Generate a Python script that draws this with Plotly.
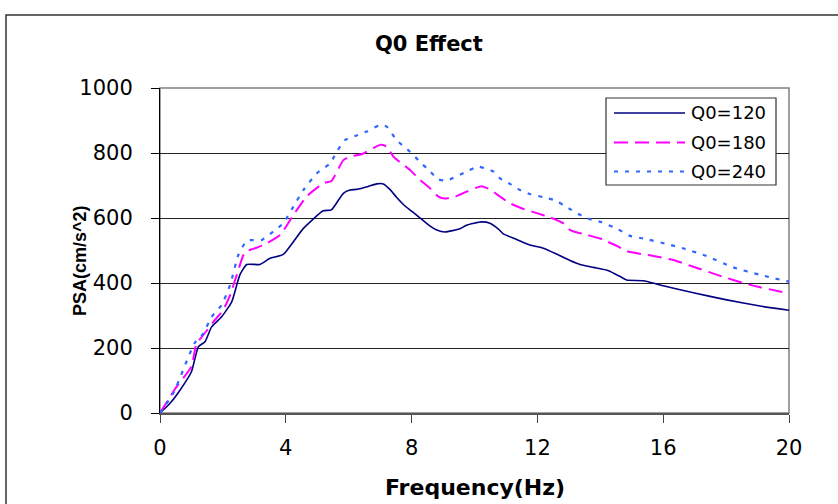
import plotly.graph_objects as go

# ---- data ----
series_names = ["Q0=120", "Q0=180", "Q0=240"]

f_120 = [0, 0.32, 0.64, 1.0, 1.22, 1.43, 1.64, 1.96, 2.28, 2.54, 2.76, 3.18, 3.50, 3.92, 4.56, 5.19,
         5.45, 5.83, 6.04, 6.25, 6.62, 6.89, 7.10, 7.31, 7.52, 7.79, 8.16, 8.59, 8.80, 9.06, 9.54,
         9.75, 10.22, 10.49, 10.76, 10.92, 11.34, 11.76, 12.19, 12.61, 13.04, 13.35, 13.78, 14.26,
         14.63, 14.84, 15.37, 15.90, 16.96, 18.02, 19.08, 20.0]
v_120 = [0, 30, 71, 127, 204, 219, 265, 296, 342, 425, 457, 457, 476, 488, 568, 622,
         625, 676, 686, 688, 697, 705, 705, 688, 664, 637, 609, 575, 563, 557, 567,
         578, 588, 584, 566, 551, 534, 517, 507, 489, 469, 457, 448, 438,
         420, 409, 407, 394, 370, 348, 329, 316]

f_180 = [0, 0.53, 1.0, 1.16, 1.38, 1.70, 2.01, 2.23, 2.49, 2.70, 2.97, 3.29, 3.82, 4.24, 4.66, 5.19,
         5.45, 5.83, 6.04, 6.41, 6.78, 7.0, 7.21, 7.42, 7.68, 7.95, 8.27, 8.59, 8.85, 9.06, 9.38,
         9.75, 10.22, 10.49, 10.81, 11.13, 11.50, 11.98, 12.40, 12.82, 13.04, 13.57, 13.99, 14.57,
         14.84, 15.69, 16.32, 16.96, 17.81, 18.66, 19.08, 20.0]
v_180 = [0, 81, 143, 214, 240, 281, 317, 363, 440, 496, 505, 517, 548, 609, 666, 707,
         714, 778, 789, 796, 815, 825, 820, 789, 768, 748, 717, 691, 666, 660, 666,
         681, 698, 688, 666, 645, 630, 615, 602, 584, 563, 548, 537, 512,
         498, 483, 471, 450, 422, 397, 387, 368]

f_240 = [0, 0.43, 1.1, 1.38, 1.64, 1.96, 2.23, 2.49, 2.76, 2.97, 3.23, 3.60, 3.92, 4.24, 4.56, 4.98,
         5.41, 5.62, 5.88, 6.20, 6.57, 7.0, 7.21, 7.52, 7.95, 8.21, 8.59, 8.85, 9.11, 9.75, 10.12,
         10.60, 10.81, 11.13, 11.45, 11.76, 12.19, 12.61, 12.82, 13.08, 13.35, 13.67, 14.04, 14.57,
         14.94, 15.37, 16.11, 16.69, 17.38, 18.23, 19.08, 20.0]
v_240 = [0, 62, 215, 245, 296, 332, 394, 486, 530, 532, 532, 558, 584, 635, 686, 737,
         768, 804, 840, 852, 866, 886, 881, 840, 804, 778, 743, 719, 715, 743, 758,
         743, 722, 705, 686, 674, 664, 653, 640, 625, 610, 596, 587, 565,
         545, 537, 520, 505, 483, 448, 425, 404]

x_ticks = [0, 4, 8, 12, 16, 20]
y_ticks = [0, 200, 400, 600, 800, 1000]

# ---- styles ----
colors = ["#000080", "#FF00FF", "#3366FF"]
dashes = ["solid", "14px,7px", "4px,7px"]
widths = [1.6, 2.0, 2.2]

W, H = 838, 504
ML, MR, MT, MB = 160, 49, 88, 91
PW, PH = W - ML - MR, H - MT - MB


def px(x):
    return (x - ML) / PW


def py(y):
    return (H - MB - y) / PH


fig = go.Figure()
for name, fx, fy, c, d, w in zip(series_names, [f_120, f_180, f_240], [v_120, v_180, v_240],
                                 colors, dashes, widths):
    fig.add_trace(go.Scatter(x=fx, y=fy, mode="lines", name=name,
                             line=dict(color=c, dash=d, width=w, shape="spline", smoothing=0.5),
                             showlegend=False))

tick_font = dict(family="DejaVu Sans", size=21, color="black")

fig.update_layout(
    width=W, height=H,
    margin=dict(l=ML, r=MR, t=MT, b=MB),
    paper_bgcolor="white", plot_bgcolor="white",
    xaxis=dict(range=[0, 20], tickvals=x_ticks, ticks="outside", ticklen=8, tickcolor="#444",
               tickwidth=1, showline=True, linecolor="#555", linewidth=2, showgrid=False,
               zeroline=False, tickfont=tick_font, ticklabelstandoff=7),
    yaxis=dict(range=[0, 1000], tickvals=y_ticks, ticks="outside", ticklen=8, tickcolor="black",
               tickwidth=1, showline=True, linecolor="black", linewidth=1, showgrid=True,
               gridcolor="#222", gridwidth=1, zeroline=False, tickfont=tick_font,
               ticklabelstandoff=14),
    font=dict(family="DejaVu Sans", color="black"),
)

shapes = []
# plot area frame
shapes.append(dict(type="rect", xref="paper", yref="paper", x0=0, x1=1, y0=0, y1=1,
                   line=dict(color="#808080", width=1.5), layer="below"))
# outer chart border
shapes.append(dict(type="rect", xref="paper", yref="paper", x0=px(6), x1=px(846), y0=py(510), y1=py(15),
                   line=dict(color="#333", width=1.5)))
# legend box
shapes.append(dict(type="rect", xref="paper", yref="paper", x0=px(606), x1=px(776), y0=py(185), y1=py(98),
                   line=dict(color="#333", width=1.2), fillcolor="white", layer="above"))

annotations = []
leg_y = [113, 142.5, 171.5]
for name, c, d, w, ly in zip(series_names, colors, dashes, widths, leg_y):
    shapes.append(dict(type="line", xref="paper", yref="paper", x0=px(614), x1=px(685), y0=py(ly), y1=py(ly),
                       line=dict(color=c, dash=d, width=w), layer="above"))
    annotations.append(dict(text=name, xref="paper", yref="paper", x=px(689), y=py(ly),
                            xanchor="left", yanchor="middle", showarrow=False,
                            font=dict(family="DejaVu Sans", size=18, color="black")))

annotations.append(dict(text="Q0 Effect", xref="paper", yref="paper", x=px(428.5), y=py(44.5),
                        xanchor="center", yanchor="middle", showarrow=False,
                        font=dict(family="DejaVu Sans", size=21, color="black", weight="bold")))
annotations.append(dict(text="Frequency(Hz)", xref="paper", yref="paper", x=px(475), y=py(487.5),
                        xanchor="center", yanchor="middle", showarrow=False,
                        font=dict(family="DejaVu Sans", size=22, color="black", weight="bold")))
annotations.append(dict(text="PSA(cm/s^2)", xref="paper", yref="paper", x=px(80), y=py(261),
                        xanchor="center", yanchor="middle", showarrow=False, textangle=-90,
                        font=dict(family="Liberation Sans", size=18, color="black", weight="bold")))

fig.update_layout(shapes=shapes, annotations=annotations)
fig.write_html("out.html")
